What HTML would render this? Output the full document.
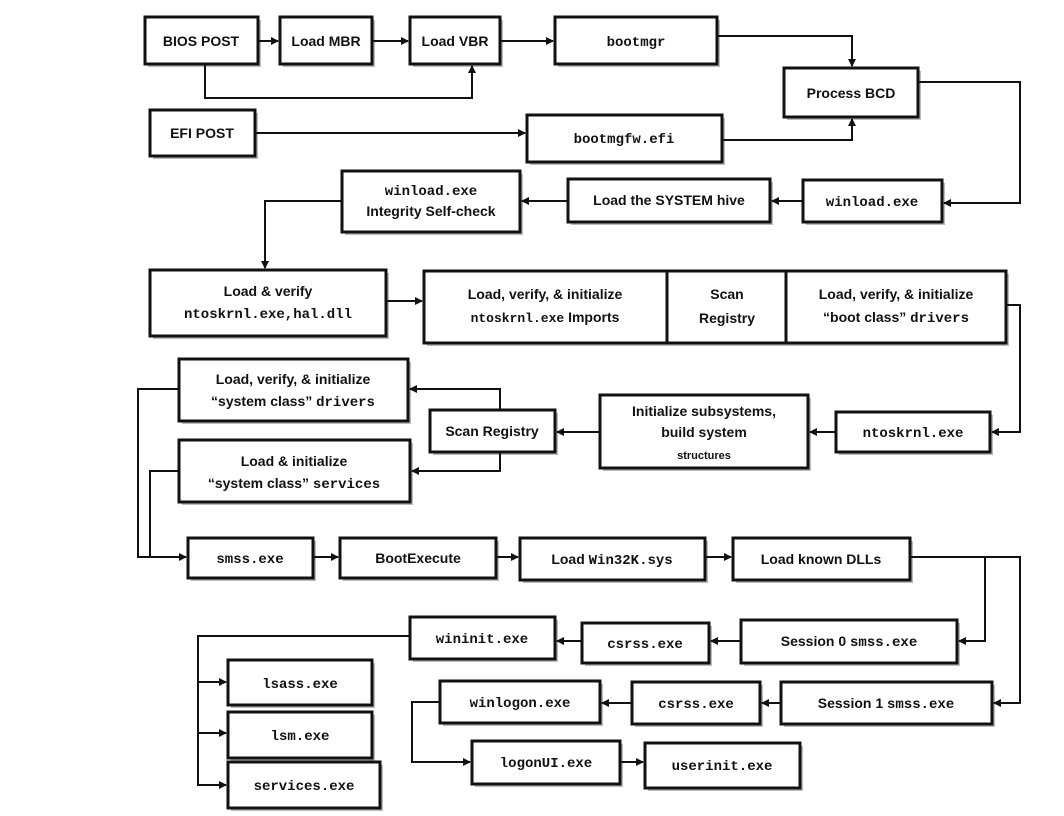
<!DOCTYPE html>
<html><head><meta charset="utf-8"><style>
html,body{margin:0;padding:0;background:#fff;}
svg{display:block;}
.b{fill:#fff;stroke:#111;stroke-width:3;}
.s{fill:#bbb;}
.t{font-family:"Liberation Sans",sans-serif;font-weight:bold;font-size:14px;fill:#111;text-anchor:middle;}
.m{font-family:"Liberation Mono",monospace;font-weight:bold;font-size:14px;fill:#111;text-anchor:middle;}
.l{fill:none;stroke:#111;stroke-width:2;}
</style></head><body>
<svg width="1064" height="816" viewBox="0 0 1064 816" xmlns="http://www.w3.org/2000/svg">
<defs><marker id="a" markerWidth="8" markerHeight="8" refX="7" refY="4" orient="auto" markerUnits="userSpaceOnUse"><path d="M0,0 L8,4 L0,8 z" fill="#111"/></marker></defs>
<g id="boxes">
<!-- shadows -->
<g class="s">
<rect x="148" y="20" width="113" height="47"/><rect x="283" y="20" width="92" height="47"/><rect x="413" y="20" width="90" height="47"/><rect x="558" y="20" width="162" height="47"/>
<rect x="787" y="71" width="134" height="49"/><rect x="153" y="113" width="105" height="46"/><rect x="530" y="118" width="195" height="47"/>
<rect x="806" y="183" width="139" height="42"/><rect x="571" y="182" width="202" height="43"/><rect x="345" y="174" width="178" height="61"/>
<rect x="153" y="273" width="236" height="66"/><rect x="427" y="274" width="582" height="72"/>
<rect x="182" y="362" width="229" height="62"/><rect x="433" y="413" width="125" height="42"/><rect x="603" y="398" width="208" height="73"/><rect x="839" y="415" width="154" height="40"/>
<rect x="182" y="443" width="231" height="62"/>
<rect x="191" y="541" width="125" height="40"/><rect x="343" y="541" width="156" height="40"/><rect x="523" y="541" width="185" height="42"/><rect x="736" y="541" width="177" height="42"/>
<rect x="744" y="623" width="216" height="43"/><rect x="585" y="626" width="127" height="40"/><rect x="413" y="620" width="145" height="42"/>
<rect x="231" y="663" width="144" height="45"/><rect x="231" y="715" width="144" height="46"/><rect x="231" y="765" width="152" height="46"/>
<rect x="784" y="685" width="211" height="42"/><rect x="635" y="685" width="128" height="42"/><rect x="443" y="684" width="160" height="42"/>
<rect x="475" y="744" width="148" height="43"/><rect x="648" y="746" width="155" height="45"/>
</g>
<rect class="b" x="145" y="17" width="113" height="47"/><text class="t" x="201" y="46">BIOS POST</text>
<rect class="b" x="280" y="17" width="92" height="47"/><text class="t" x="326" y="46">Load MBR</text>
<rect class="b" x="410" y="17" width="90" height="47"/><text class="t" x="455" y="46">Load VBR</text>
<rect class="b" x="555" y="17" width="162" height="47"/><text class="m" x="636" y="46">bootmgr</text>
<rect class="b" x="784" y="68" width="134" height="49"/><text class="t" x="851" y="98">Process BCD</text>
<rect class="b" x="150" y="110" width="105" height="46"/><text class="t" x="202" y="138">EFI POST</text>
<rect class="b" x="527" y="115" width="195" height="47"/><text class="m" x="624" y="143">bootmgfw.efi</text>
<rect class="b" x="803" y="180" width="139" height="42"/><text class="m" x="872" y="206">winload.exe</text>
<rect class="b" x="568" y="179" width="202" height="43"/><text class="t" x="669" y="205">Load the SYSTEM hive</text>
<rect class="b" x="342" y="171" width="178" height="61"/><text class="m" x="431" y="195">winload.exe</text><text class="t" x="431" y="216">Integrity Self-check</text>
<rect class="b" x="150" y="270" width="236" height="66"/><text class="t" x="268" y="296">Load &amp; verify</text><text class="m" x="268" y="318">ntoskrnl.exe,hal.dll</text>
<rect class="b" x="424" y="271" width="582" height="72"/>
<line x1="667" y1="271" x2="667" y2="343" stroke="#111" stroke-width="3"/><line x1="786" y1="271" x2="786" y2="343" stroke="#111" stroke-width="3"/>
<text class="t" x="545" y="299">Load, verify, &amp; initialize</text><text class="t" x="545" y="322"><tspan class="m" style="font-size:13px">ntoskrnl.exe</tspan> Imports</text>
<text class="t" x="727" y="299">Scan</text><text class="t" x="727" y="323">Registry</text>
<text class="t" x="896" y="299">Load, verify, &amp; initialize</text><text class="t" x="896" y="322">“boot class” <tspan font-family="Liberation Mono">drivers</tspan></text>
<rect class="b" x="179" y="359" width="229" height="62"/><text class="t" x="293" y="384">Load, verify, &amp; initialize</text><text class="t" x="293" y="406">“system class” <tspan font-family="Liberation Mono">drivers</tspan></text>
<rect class="b" x="430" y="410" width="125" height="42"/><text class="t" x="492" y="436">Scan Registry</text>
<rect class="b" x="600" y="395" width="208" height="73"/><text class="t" x="704" y="416">Initialize subsystems,</text><text class="t" x="704" y="437">build system</text><text class="t" x="704" y="459" style="font-size:11px">structures</text>
<rect class="b" x="836" y="412" width="154" height="40"/><text class="m" x="913" y="437">ntoskrnl.exe</text>
<rect class="b" x="179" y="440" width="231" height="62"/><text class="t" x="294" y="466">Load &amp; initialize</text><text class="t" x="294" y="488">“system class” <tspan font-family="Liberation Mono">services</tspan></text>
<rect class="b" x="188" y="538" width="125" height="40"/><text class="m" x="250" y="563">smss.exe</text>
<rect class="b" x="340" y="538" width="156" height="40"/><text class="t" x="418" y="563">BootExecute</text>
<rect class="b" x="520" y="538" width="185" height="42"/><text class="t" x="612" y="564">Load <tspan font-family="Liberation Mono">Win32K.sys</tspan></text>
<rect class="b" x="733" y="538" width="177" height="42"/><text class="t" x="821" y="564">Load known DLLs</text>
<rect class="b" x="741" y="620" width="216" height="43"/><text class="t" x="849" y="646">Session 0 <tspan font-family="Liberation Mono">smss.exe</tspan></text>
<rect class="b" x="582" y="623" width="127" height="40"/><text class="m" x="645" y="648">csrss.exe</text>
<rect class="b" x="410" y="617" width="145" height="42"/><text class="m" x="482" y="643">wininit.exe</text>
<rect class="b" x="228" y="660" width="144" height="45"/><text class="m" x="300" y="688">lsass.exe</text>
<rect class="b" x="228" y="712" width="144" height="46"/><text class="m" x="300" y="740">lsm.exe</text>
<rect class="b" x="228" y="762" width="152" height="46"/><text class="m" x="304" y="790">services.exe</text>
<rect class="b" x="781" y="682" width="211" height="42"/><text class="t" x="886" y="708">Session 1 <tspan font-family="Liberation Mono">smss.exe</tspan></text>
<rect class="b" x="632" y="682" width="128" height="42"/><text class="m" x="696" y="708">csrss.exe</text>
<rect class="b" x="440" y="681" width="160" height="42"/><text class="m" x="520" y="707">winlogon.exe</text>
<rect class="b" x="472" y="741" width="148" height="43"/><text class="m" x="546" y="767">logonUI.exe</text>
<rect class="b" x="645" y="743" width="155" height="45"/><text class="m" x="722" y="770">userinit.exe</text>
</g>
<g>
<path class="l" d="M258,41 H278" marker-end="url(#a)"/>
<path class="l" d="M372,41 H408" marker-end="url(#a)"/>
<path class="l" d="M500,41 H553" marker-end="url(#a)"/>
<path class="l" d="M717,36 H852 V66" marker-end="url(#a)"/>
<path class="l" d="M205,64 V98 H472 V66" marker-end="url(#a)"/>
<path class="l" d="M255,133 H525" marker-end="url(#a)"/>
<path class="l" d="M722,140 H852 V119" marker-end="url(#a)"/>
<path class="l" d="M918,82 H1020 V203 H944" marker-end="url(#a)"/>
<path class="l" d="M803,201 H772" marker-end="url(#a)"/>
<path class="l" d="M568,201 H522" marker-end="url(#a)"/>
<path class="l" d="M342,201 H265 V268" marker-end="url(#a)"/>
<path class="l" d="M386,301 H422" marker-end="url(#a)"/>
<path class="l" d="M1006,305 H1020 V432 H992" marker-end="url(#a)"/>
<path class="l" d="M836,432 H810" marker-end="url(#a)"/>
<path class="l" d="M600,432 H557" marker-end="url(#a)"/>
<path class="l" d="M500,410 V389 H410" marker-end="url(#a)"/>
<path class="l" d="M500,452 V471 H412" marker-end="url(#a)"/>
<path class="l" d="M179,389 H138 V557 H186" marker-end="url(#a)"/>
<path class="l" d="M179,471 H150 V557"/>
<path class="l" d="M313,557 H338" marker-end="url(#a)"/>
<path class="l" d="M496,557 H518" marker-end="url(#a)"/>
<path class="l" d="M705,557 H731" marker-end="url(#a)"/>
<path class="l" d="M910,557 H1020 V703 H994" marker-end="url(#a)"/>
<path class="l" d="M985,557 V641 H959" marker-end="url(#a)"/>
<path class="l" d="M741,641 H711" marker-end="url(#a)"/>
<path class="l" d="M582,641 H557" marker-end="url(#a)"/>
<path class="l" d="M410,636 H198 V785 H226" marker-end="url(#a)"/>
<path class="l" d="M198,682 H226" marker-end="url(#a)"/>
<path class="l" d="M198,733 H226" marker-end="url(#a)"/>
<path class="l" d="M781,703 H762" marker-end="url(#a)"/>
<path class="l" d="M632,703 H602" marker-end="url(#a)"/>
<path class="l" d="M440,702 H412 V762 H470" marker-end="url(#a)"/>
<path class="l" d="M620,762 H643" marker-end="url(#a)"/>
</g>
</svg>
</body></html>
